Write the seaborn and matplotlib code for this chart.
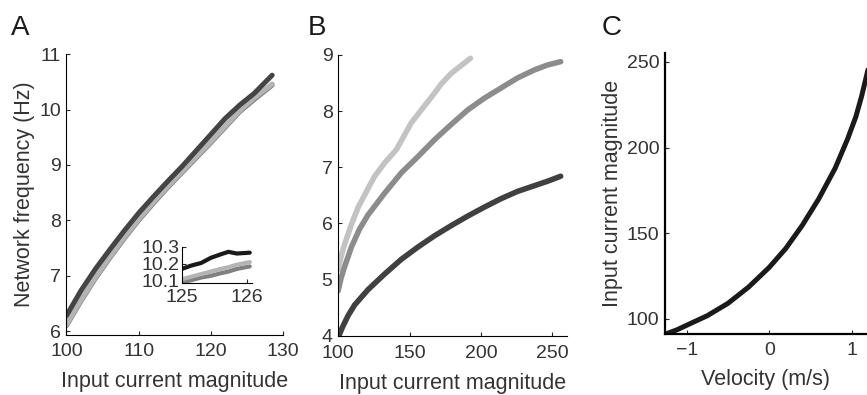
import seaborn as sns
import matplotlib.pyplot as plt

# panel A: network frequency vs input current
a_x = [100, 102, 104, 106, 108, 110, 112, 114, 116, 118, 120, 122, 124, 126, 128.5]
a_dark = [6.28, 6.73, 7.12, 7.47, 7.81, 8.13, 8.42, 8.70, 8.97, 9.26, 9.55, 9.84, 10.08, 10.29, 10.62]
a_light = [6.12, 6.56, 6.97, 7.34, 7.69, 8.02, 8.32, 8.61, 8.88, 9.15, 9.42, 9.70, 9.98, 10.21, 10.46]
a_mid = [6.10, 6.54, 6.95, 7.32, 7.67, 8.00, 8.30, 8.59, 8.86, 9.13, 9.40, 9.68, 9.96, 10.18, 10.44]

# inset of A (zoom on 125-126)
ins_x = [125, 125.15, 125.3, 125.45, 125.6, 125.72, 125.85, 126.05]
ins_black = [10.17, 10.19, 10.205, 10.235, 10.255, 10.27, 10.26, 10.265]
ins_light = [10.11, 10.125, 10.14, 10.155, 10.17, 10.18, 10.195, 10.21]
ins_mid = [10.09, 10.105, 10.12, 10.13, 10.145, 10.155, 10.17, 10.185]

# panel B
b_light_x = [100, 102, 104.4, 109.3, 113.9, 120.9, 125.6, 132.6, 140.7, 151.2, 158.2, 167.5, 172.1, 179.1, 192.6]
b_light_y = [5.18, 5.40, 5.62, 5.98, 6.28, 6.62, 6.84, 7.08, 7.31, 7.79, 8.02, 8.32, 8.48, 8.67, 8.94]
b_mid_x = [100, 102, 104.4, 109.3, 115, 120.9, 132.6, 144.2, 155.9, 167.5, 179.1, 190.7, 202.4, 214, 225.6, 237.2, 246.5, 255.8]
b_mid_y = [4.80, 5.02, 5.22, 5.58, 5.90, 6.15, 6.54, 6.90, 7.19, 7.49, 7.76, 8.02, 8.23, 8.41, 8.59, 8.73, 8.82, 8.88]
b_dark_x = [100, 103, 107, 111.6, 120.9, 132.6, 144.2, 155.9, 167.5, 179.1, 190.7, 202.4, 214, 225.6, 237.2, 246.5, 255.8]
b_dark_y = [3.97, 4.15, 4.36, 4.55, 4.82, 5.10, 5.36, 5.58, 5.78, 5.96, 6.13, 6.29, 6.44, 6.57, 6.67, 6.75, 6.84]

# panel C
c_v = [-1.26, -1.12, -1.0, -0.75, -0.5, -0.25, 0, 0.2, 0.4, 0.6, 0.8, 0.95, 1.05, 1.12, 1.19, 1.25]
c_i = [91, 93.5, 96.2, 101.8, 109, 118.5, 130, 141, 154.5, 170, 188, 205, 218, 230, 244, 256]

sns.set_style('ticks')
plt.rcParams['font.family'] = ['Liberation Sans', 'DejaVu Sans']

fig = plt.figure(figsize=(8.67, 3.95), dpi=100)
axA = fig.add_axes([0.0767, 0.152, 0.2497, 0.711])
axB = fig.add_axes([0.390, 0.150, 0.2636, 0.711])
axC = fig.add_axes([0.767, 0.154, 0.233, 0.711])
axI = fig.add_axes([0.2096, 0.2835, 0.0807, 0.092])

txt = '#333333'
sns.lineplot(x=a_x, y=a_mid, ax=axA, color='#808080', lw=3.6)
sns.lineplot(x=a_x, y=a_light, ax=axA, color='#b4b4b4', lw=3.6)
sns.lineplot(x=a_x, y=a_dark, ax=axA, color='#444444', lw=3.6)
axA.set_xlim(100, 130)
axA.set_ylim(5.93, 11)
axA.set_xticks([100, 110, 120, 130])
axA.set_yticks([6, 7, 8, 9, 10, 11])
axA.set_xlabel('Input current magnitude', fontsize=15.5, color=txt, labelpad=8)
axA.set_ylabel('Network frequency (Hz)', fontsize=15.5, color=txt, labelpad=3)

sns.lineplot(x=ins_x, y=ins_mid, ax=axI, color='#808080', lw=3)
sns.lineplot(x=ins_x, y=ins_light, ax=axI, color='#b4b4b4', lw=3)
sns.lineplot(x=ins_x, y=ins_black, ax=axI, color='#1a1a1a', lw=3)
axI.set_xlim(125, 126.08)
axI.set_ylim(10.088, 10.3)
axI.set_xticks([125, 126])
axI.set_yticks([10.1, 10.2, 10.3])
axI.set_yticklabels(['10.1', '10.2', '10.3'])
axI.patch.set_alpha(0)

sns.lineplot(x=b_light_x, y=b_light_y, ax=axB, color='#c3c3c3', lw=4)
sns.lineplot(x=b_mid_x, y=b_mid_y, ax=axB, color='#8c8c8c', lw=4)
sns.lineplot(x=b_dark_x, y=b_dark_y, ax=axB, color='#404040', lw=4)
axB.set_xlim(100, 260)
axB.set_ylim(4, 9)
axB.set_xticks([100, 150, 200, 250])
axB.set_yticks([4, 5, 6, 7, 8, 9])
axB.set_xlabel('Input current magnitude', fontsize=15.5, color=txt, labelpad=8)

sns.lineplot(x=c_v, y=c_i, ax=axC, color='#1a1a1a', lw=3.6)
axC.set_xlim(-1.263, 1.185)
axC.set_ylim(91, 255)
axC.set_xticks([-1, 0, 1])
axC.set_yticks([100, 150, 200, 250])
axC.set_xlabel('Velocity (m/s)', fontsize=15.5, color=txt, labelpad=7)
axC.set_ylabel('Input current magnitude', fontsize=15.5, color=txt, labelpad=3)

for ax in [axA, axB, axC, axI]:
    sns.despine(ax=ax)
    ax.tick_params(direction='in', length=3, width=0.8, labelsize=14, labelcolor=txt)
    ax.tick_params(axis='x', pad=5.5)
    ax.tick_params(axis='y', pad=4)
    ax.spines['left'].set_color('black')
    ax.spines['bottom'].set_color('black')
axI.tick_params(axis='y', pad=1.5)
axI.tick_params(axis='x', pad=4.5)
axB.tick_params(axis='x', pad=6.5)
axC.spines['left'].set_linewidth(1.6)
axC.spines['bottom'].set_linewidth(1.6)

fig.text(0.013, 0.912, 'A', fontsize=20, color='#1a1a1a')
fig.text(0.355, 0.912, 'B', fontsize=20, color='#1a1a1a')
fig.text(0.694, 0.912, 'C', fontsize=20, color='#1a1a1a')

fig.savefig('out.png', dpi=100)
